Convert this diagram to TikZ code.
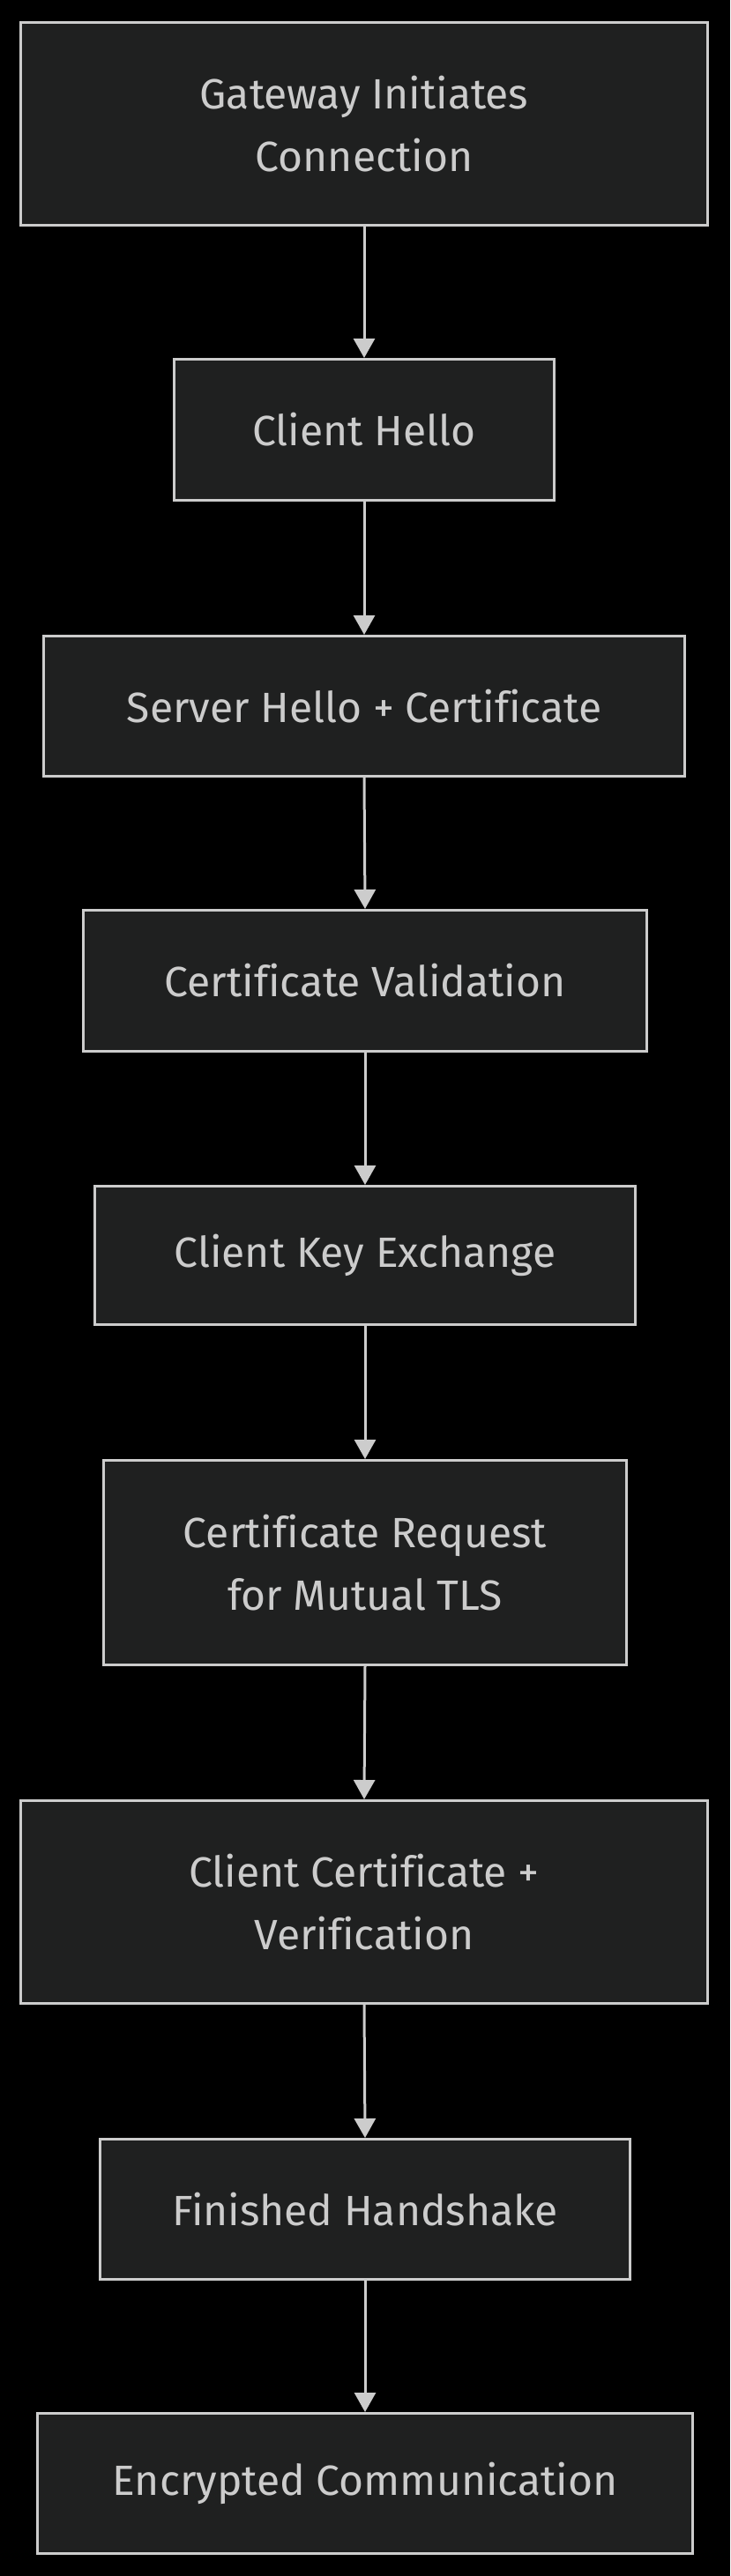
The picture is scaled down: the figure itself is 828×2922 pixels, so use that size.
\documentclass[tikz,border=0pt]{standalone}
\usepackage{fontspec}
\setmainfont[Ligatures=NoCommon]{Fira Sans}
\usetikzlibrary{arrows.meta}
\definecolor{bgc}{HTML}{000000}
\definecolor{nodefill}{HTML}{1F2020}
\definecolor{strokec}{HTML}{CCCCCC}
\definecolor{txtc}{HTML}{CCCCCC}
\begin{document}
\begin{tikzpicture}[x=0.75pt,y=-0.75pt,
  box/.style={draw=strokec, fill=nodefill, line width=2.25pt, text=txtc, align=center,
    inner sep=0pt, font=\fontsize{36pt}{53.25pt}\selectfont},
  flow/.style={draw=strokec, line width=2.25pt, -{Triangle[width=18pt,length=16.5pt]}}]
\fill[bgc] (0,0) rectangle (828,2922);
\useasboundingbox (0,0) rectangle (828,2922);
\node[box, minimum width=779*0.75pt, minimum height=230*0.75pt] (a) at (413,140.5) {Gateway Initiates\\Connection};
\node[box, minimum width=431*0.75pt, minimum height=160*0.75pt] (b) at (413,487.5) {Client Hello};
\node[box, minimum width=727*0.75pt, minimum height=159*0.75pt] (c) at (413,801) {Server Hello + Certificate};
\node[box, minimum width=639*0.75pt, minimum height=160*0.75pt] (d) at (414,1112.5) {Certificate Validation};
\node[box, minimum width=613*0.75pt, minimum height=157*0.75pt] (e) at (414,1424) {Client Key Exchange};
\node[box, minimum width=593*0.75pt, minimum height=232*0.75pt] (f) at (414,1772.5) {Certificate Request\\for Mutual TLS};
\node[box, minimum width=779*0.75pt, minimum height=230*0.75pt] (g) at (413,2157.5) {Client Certificate +\\Verification};
\node[box, minimum width=601*0.75pt, minimum height=159*0.75pt] (h) at (414,2506) {Finished Handshake};
\node[box, minimum width=743*0.75pt, minimum height=159*0.75pt] (i) at (414,2817) {Encrypted Communication};
\draw[flow] (a.south) -- (b.north);
\draw[flow] (b.south) -- (c.north);
\draw[flow] (c.south) -- (d.north);
\draw[flow] (d.south) -- (e.north);
\draw[flow] (e.south) -- (f.north);
\draw[flow] (f.south) -- (g.north);
\draw[flow] (g.south) -- (h.north);
\draw[flow] (h.south) -- (i.north);
\end{tikzpicture}
\end{document}
